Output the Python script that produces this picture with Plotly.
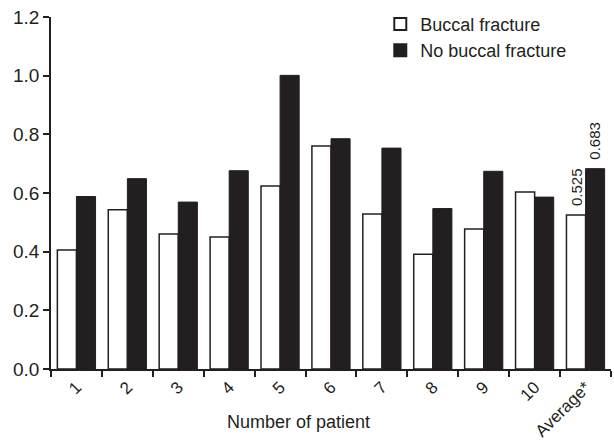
import plotly.graph_objects as go

categories = ["1", "2", "3", "4", "5", "6", "7", "8", "9", "10", "Average*"]
buccal_fracture = [0.406, 0.543, 0.460, 0.450, 0.624, 0.760, 0.528, 0.391, 0.477, 0.603, 0.525]
no_buccal_fracture = [0.588, 0.649, 0.569, 0.676, 1.001, 0.785, 0.753, 0.547, 0.674, 0.586, 0.683]
average_labels = ["0.525", "0.683"]
y_ticks = [0.0, 0.2, 0.4, 0.6, 0.8, 1.0, 1.2]

INK = "#231f20"
FONT = "Liberation Sans, Arial, sans-serif"

fig = go.Figure()
fig.add_trace(go.Bar(
    x=categories, y=buccal_fracture, name="Buccal fracture",
    marker=dict(color="white", line=dict(color=INK, width=1.5)),
))
fig.add_trace(go.Bar(
    x=categories, y=no_buccal_fracture, name="No buccal fracture",
    marker=dict(color=INK, line=dict(color=INK, width=1)),
))

# value labels above the average bars
for val, txt, shift in [(buccal_fracture[-1], average_labels[0], -9.5),
                        (no_buccal_fracture[-1], average_labels[1], 9.5)]:
    fig.add_annotation(
        x=categories[-1], y=val, xref="x", yref="y", text=txt,
        showarrow=False, textangle=-90, xshift=shift, yshift=7,
        yanchor="bottom", xanchor="center",
        font=dict(family=FONT, size=15, color=INK),
    )

# x-axis title (offset to the left as in the reference)
fig.add_annotation(
    x=(298 - 51) / 560, y=0, xref="paper", yref="paper",
    text="Number of patient", showarrow=False,
    yshift=-53, xanchor="center", yanchor="middle",
    font=dict(family=FONT, size=18, color=INK),
)

fig.update_layout(
    width=614, height=443,
    margin=dict(l=51, r=3, t=17, b=74, autoexpand=False),
    paper_bgcolor="white", plot_bgcolor="white",
    barmode="group", bargap=0.25, bargroupgap=0,
    font=dict(family=FONT, size=18, color=INK),
    legend=dict(
        x=0.588, y=1.032, xanchor="left", yanchor="top",
        bgcolor="rgba(0,0,0,0)", font=dict(size=18, color=INK),
        tracegroupgap=0, itemsizing="constant",
    ),
    xaxis=dict(
        type="category", showline=True, linecolor=INK, linewidth=1.5,
        ticks="outside", tickson="boundaries", ticklen=6, tickcolor=INK,
        tickwidth=1.5, tickangle=-45, showgrid=False, automargin=False,
        tickfont=dict(family=FONT, size=17, color=INK),
    ),
    yaxis=dict(
        range=[0, 1.2], tickvals=y_ticks, tickformat=".1f",
        showline=True, linecolor=INK, linewidth=1.5,
        ticks="outside", ticklen=6, tickcolor=INK, tickwidth=1.5,
        showgrid=False, zeroline=False, automargin=False,
        tickfont=dict(family=FONT, size=19, color=INK),
    ),
)

fig.write_html(
    "out.html",
    config={"displayModeBar": False},
    post_script="document.body.style.margin='0';document.body.style.overflow='hidden';",
)
